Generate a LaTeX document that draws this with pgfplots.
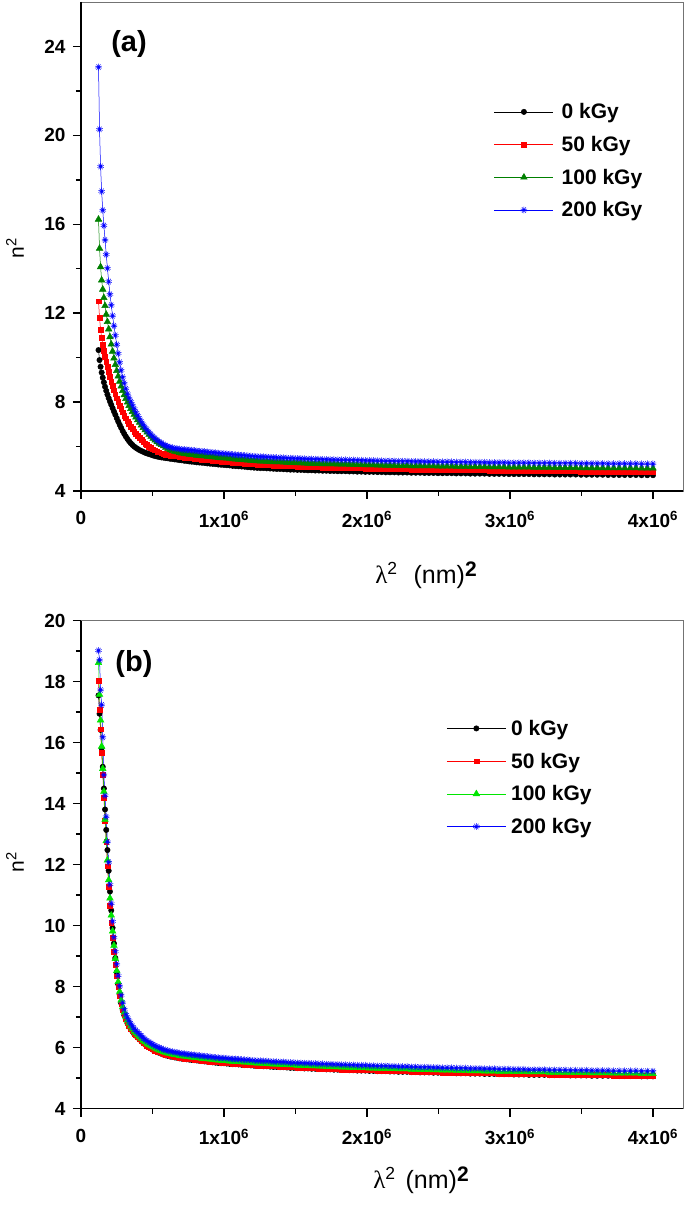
\documentclass[border=0pt]{standalone}
\usepackage{fontspec}
\setmainfont{Liberation Sans}
\newfontfamily\seriff{Liberation Serif}
\usepackage{pgfplots}
\usepackage{pgfplotstable}
\pgfplotsset{compat=1.18}
\definecolor{dgreen}{RGB}{0,128,0}
\definecolor{lgreen}{RGB}{0,230,0}

\pgfplotstableread{
x k r g b
122500 10.34 12.54 16.22 23.07
129600 9.89 11.79 14.91 20.27
136900 9.59 11.27 14.08 18.60
144400 9.33 10.89 13.48 17.48
152100 9.10 10.59 13.07 16.63
160000 8.89 10.31 12.69 15.94
168100 8.69 10.05 12.33 15.29
176400 8.51 9.82 11.94 14.64
184900 8.34 9.58 11.61 14.02
193600 8.18 9.35 11.28 13.42
202500 8.03 9.13 10.93 12.85
211600 7.88 8.92 10.60 12.36
220900 7.73 8.72 10.28 11.88
230400 7.58 8.53 9.97 11.43
240100 7.43 8.35 9.68 11.00
250000 7.28 8.17 9.41 10.59
260100 7.13 8.00 9.16 10.19
270400 6.98 7.84 8.93 9.79
280900 6.84 7.69 8.71 9.43
291600 6.70 7.54 8.51 9.12
302500 6.57 7.40 8.32 8.85
313600 6.45 7.27 8.15 8.60
324900 6.34 7.14 7.99 8.37
336400 6.24 7.02 7.84 8.18
348100 6.15 6.90 7.70 8.02
360000 6.07 6.79 7.57 7.86
372100 6.00 6.68 7.44 7.70
384400 5.94 6.58 7.32 7.54
396900 5.89 6.48 7.20 7.39
409600 5.84 6.39 7.08 7.24
422500 5.80 6.30 6.96 7.10
435600 5.76 6.22 6.85 6.97
448900 5.72 6.14 6.74 6.85
462400 5.69 6.07 6.64 6.74
476100 5.66 6.00 6.54 6.63
490000 5.63 5.94 6.45 6.53
504100 5.60 5.88 6.36 6.44
518400 5.57 5.83 6.28 6.36
532900 5.55 5.78 6.21 6.28
547600 5.53 5.74 6.14 6.21
562500 5.51 5.70 6.08 6.15
577600 5.50 5.67 6.02 6.09
592900 5.48 5.64 5.96 6.04
608400 5.47 5.62 5.90 6.00
624100 5.45 5.60 5.85 5.97
640000 5.44 5.59 5.81 5.94
656100 5.42 5.57 5.78 5.92
672400 5.41 5.56 5.75 5.90
688900 5.39 5.54 5.72 5.89
705600 5.38 5.53 5.70 5.87
722500 5.36 5.51 5.68 5.86
739600 5.35 5.50 5.66 5.85
756900 5.33 5.48 5.64 5.84
774400 5.32 5.47 5.63 5.83
792100 5.31 5.46 5.62 5.82
810000 5.29 5.44 5.60 5.80
828100 5.28 5.43 5.59 5.79
846400 5.27 5.42 5.58 5.78
864900 5.26 5.41 5.57 5.77
883600 5.24 5.39 5.55 5.75
902500 5.23 5.38 5.54 5.74
921600 5.22 5.37 5.53 5.73
940900 5.21 5.36 5.52 5.72
960400 5.19 5.34 5.50 5.70
980100 5.18 5.33 5.49 5.69
1000000 5.17 5.32 5.48 5.68
1020100 5.16 5.31 5.47 5.67
1040400 5.15 5.30 5.46 5.66
1060900 5.13 5.28 5.44 5.64
1081600 5.12 5.27 5.43 5.63
1102500 5.11 5.26 5.42 5.62
1123600 5.10 5.25 5.41 5.61
1144900 5.09 5.24 5.40 5.60
1166400 5.07 5.22 5.38 5.58
1188100 5.06 5.21 5.37 5.57
1210000 5.05 5.20 5.36 5.56
1232100 5.04 5.19 5.35 5.55
1254400 5.03 5.18 5.34 5.54
1276900 5.03 5.18 5.34 5.54
1299600 5.02 5.17 5.33 5.53
1322500 5.01 5.16 5.32 5.52
1345600 5.00 5.15 5.31 5.51
1368900 4.99 5.14 5.30 5.50
1392400 4.99 5.14 5.30 5.50
1416100 4.98 5.13 5.29 5.49
1440000 4.97 5.12 5.28 5.48
1464100 4.96 5.11 5.27 5.47
1488400 4.96 5.11 5.27 5.47
1512900 4.95 5.10 5.26 5.46
1537600 4.95 5.10 5.26 5.46
1562500 4.94 5.09 5.25 5.45
1587600 4.93 5.08 5.24 5.44
1612900 4.93 5.08 5.24 5.44
1638400 4.92 5.07 5.23 5.43
1664100 4.92 5.07 5.23 5.43
1690000 4.91 5.06 5.22 5.42
1716100 4.91 5.06 5.22 5.42
1742400 4.90 5.05 5.21 5.41
1768900 4.90 5.05 5.21 5.41
1795600 4.89 5.04 5.20 5.40
1822500 4.89 5.04 5.20 5.40
1849600 4.89 5.04 5.20 5.40
1876900 4.88 5.03 5.19 5.39
1904400 4.88 5.03 5.19 5.39
1932100 4.87 5.02 5.18 5.38
1960000 4.87 5.02 5.18 5.38
1988100 4.86 5.01 5.17 5.37
2016400 4.86 5.01 5.17 5.37
2044900 4.86 5.01 5.17 5.37
2073600 4.85 5.00 5.16 5.36
2102500 4.85 5.00 5.16 5.36
2131600 4.84 4.99 5.15 5.35
2160900 4.84 4.99 5.15 5.35
2190400 4.84 4.99 5.15 5.35
2220100 4.83 4.98 5.14 5.34
2250000 4.83 4.98 5.14 5.34
2280100 4.83 4.98 5.14 5.34
2310400 4.82 4.97 5.13 5.33
2340900 4.82 4.97 5.13 5.33
2371600 4.82 4.97 5.13 5.33
2402500 4.81 4.96 5.12 5.32
2433600 4.81 4.96 5.12 5.32
2464900 4.81 4.96 5.12 5.32
2496400 4.80 4.95 5.11 5.31
2528100 4.80 4.95 5.11 5.31
2560000 4.80 4.95 5.11 5.31
2592100 4.80 4.95 5.11 5.31
2624400 4.79 4.94 5.10 5.30
2656900 4.79 4.94 5.10 5.30
2689600 4.79 4.94 5.10 5.30
2722500 4.78 4.93 5.09 5.29
2755600 4.78 4.93 5.09 5.29
2788900 4.78 4.93 5.09 5.29
2822400 4.78 4.93 5.09 5.29
2856100 4.77 4.92 5.08 5.28
2890000 4.77 4.92 5.08 5.28
2924100 4.77 4.92 5.08 5.28
2958400 4.77 4.92 5.08 5.28
2992900 4.76 4.91 5.07 5.27
3027600 4.76 4.91 5.07 5.27
3062500 4.76 4.91 5.07 5.27
3097600 4.76 4.91 5.07 5.27
3132900 4.76 4.91 5.07 5.27
3168400 4.75 4.90 5.06 5.26
3204100 4.75 4.90 5.06 5.26
3240000 4.75 4.90 5.06 5.26
3276100 4.75 4.90 5.06 5.26
3312400 4.74 4.89 5.05 5.25
3348900 4.74 4.89 5.05 5.25
3385600 4.74 4.89 5.05 5.25
3422500 4.74 4.89 5.05 5.25
3459600 4.74 4.89 5.05 5.25
3496900 4.73 4.88 5.04 5.24
3534400 4.73 4.88 5.04 5.24
3572100 4.73 4.88 5.04 5.24
3610000 4.73 4.88 5.04 5.24
3648100 4.73 4.88 5.04 5.24
3686400 4.72 4.87 5.03 5.23
3724900 4.72 4.87 5.03 5.23
3763600 4.72 4.87 5.03 5.23
3802500 4.72 4.87 5.03 5.23
3841600 4.72 4.87 5.03 5.23
3880900 4.72 4.87 5.03 5.23
3920400 4.71 4.86 5.02 5.22
3960100 4.71 4.86 5.02 5.22
4000000 4.71 4.86 5.02 5.22
}\tabA

\pgfplotstableread{
x k r g b
122500 17.55 18.02 18.62 19.02
129600 16.95 17.07 17.58 18.71
136900 16.42 16.44 16.74 17.73
144400 15.82 15.67 15.88 17.24
152100 15.21 14.96 15.15 16.18
160000 14.50 14.20 14.40 14.94
168100 13.81 13.44 13.48 14.26
176400 13.14 12.75 12.78 13.57
184900 12.48 11.95 12.15 12.75
193600 11.80 11.28 11.50 12.08
202500 11.12 10.66 10.90 11.35
211600 10.50 10.10 10.34 10.72
220900 9.93 9.60 9.82 10.14
230400 9.42 9.15 9.35 9.62
240100 8.94 8.73 8.92 9.16
250000 8.48 8.34 8.52 8.74
260100 8.08 8.00 8.16 8.36
270400 7.74 7.70 7.84 8.02
280900 7.46 7.45 7.56 7.72
291600 7.24 7.24 7.34 7.47
302500 7.06 7.07 7.16 7.26
313600 6.92 6.93 7.02 7.09
324900 6.80 6.82 6.90 6.98
336400 6.70 6.72 6.80 6.88
348100 6.61 6.63 6.70 6.78
360000 6.53 6.55 6.62 6.70
372100 6.45 6.47 6.54 6.62
384400 6.39 6.41 6.48 6.56
396900 6.33 6.35 6.42 6.50
409600 6.27 6.29 6.36 6.44
422500 6.21 6.23 6.30 6.38
435600 6.15 6.17 6.24 6.32
448900 6.10 6.12 6.19 6.27
462400 6.05 6.07 6.14 6.22
476100 6.01 6.03 6.10 6.18
490000 5.97 5.99 6.06 6.14
504100 5.93 5.95 6.02 6.10
518400 5.89 5.91 5.98 6.06
532900 5.86 5.88 5.95 6.03
547600 5.83 5.85 5.92 6.00
562500 5.80 5.82 5.89 5.97
577600 5.77 5.79 5.86 5.94
592900 5.75 5.77 5.84 5.92
608400 5.73 5.75 5.82 5.90
624100 5.71 5.73 5.80 5.88
640000 5.70 5.72 5.79 5.87
656100 5.68 5.70 5.77 5.85
672400 5.67 5.69 5.76 5.84
688900 5.65 5.67 5.74 5.82
705600 5.64 5.66 5.73 5.81
722500 5.63 5.65 5.72 5.80
739600 5.62 5.64 5.71 5.79
756900 5.61 5.63 5.70 5.78
774400 5.60 5.62 5.69 5.77
792100 5.59 5.61 5.68 5.76
810000 5.58 5.60 5.67 5.75
828100 5.57 5.59 5.66 5.74
846400 5.56 5.58 5.65 5.73
864900 5.55 5.57 5.64 5.72
883600 5.54 5.56 5.63 5.71
902500 5.53 5.55 5.62 5.70
921600 5.52 5.54 5.61 5.69
940900 5.51 5.53 5.60 5.68
960400 5.50 5.52 5.59 5.67
980100 5.49 5.51 5.58 5.66
1000000 5.49 5.51 5.58 5.66
1020100 5.48 5.50 5.57 5.65
1040400 5.47 5.49 5.56 5.64
1060900 5.46 5.48 5.55 5.63
1081600 5.46 5.48 5.55 5.63
1102500 5.45 5.47 5.54 5.62
1123600 5.44 5.46 5.53 5.61
1144900 5.43 5.45 5.52 5.60
1166400 5.43 5.45 5.52 5.60
1188100 5.42 5.44 5.51 5.59
1210000 5.41 5.43 5.50 5.58
1232100 5.40 5.42 5.49 5.57
1254400 5.40 5.42 5.49 5.57
1276900 5.39 5.41 5.48 5.56
1299600 5.39 5.41 5.48 5.56
1322500 5.38 5.40 5.47 5.55
1345600 5.37 5.39 5.46 5.54
1368900 5.37 5.39 5.46 5.54
1392400 5.36 5.38 5.45 5.53
1416100 5.36 5.38 5.45 5.53
1440000 5.35 5.37 5.44 5.52
1464100 5.34 5.36 5.43 5.51
1488400 5.34 5.36 5.43 5.51
1512900 5.33 5.35 5.42 5.50
1537600 5.33 5.35 5.42 5.50
1562500 5.32 5.34 5.41 5.49
1587600 5.32 5.34 5.41 5.49
1612900 5.31 5.33 5.40 5.48
1638400 5.31 5.33 5.40 5.48
1664100 5.30 5.32 5.39 5.47
1690000 5.30 5.32 5.39 5.47
1716100 5.29 5.31 5.38 5.46
1742400 5.29 5.31 5.38 5.46
1768900 5.28 5.30 5.37 5.45
1795600 5.28 5.30 5.37 5.45
1822500 5.27 5.29 5.36 5.44
1849600 5.27 5.29 5.36 5.44
1876900 5.26 5.28 5.35 5.43
1904400 5.26 5.28 5.35 5.43
1932100 5.25 5.27 5.34 5.42
1960000 5.25 5.27 5.34 5.42
1988100 5.25 5.27 5.34 5.42
2016400 5.24 5.26 5.33 5.41
2044900 5.24 5.26 5.33 5.41
2073600 5.23 5.25 5.32 5.40
2102500 5.23 5.25 5.32 5.40
2131600 5.23 5.25 5.32 5.40
2160900 5.22 5.24 5.31 5.39
2190400 5.22 5.24 5.31 5.39
2220100 5.21 5.23 5.30 5.38
2250000 5.21 5.23 5.30 5.38
2280100 5.21 5.23 5.30 5.38
2310400 5.20 5.22 5.29 5.37
2340900 5.20 5.22 5.29 5.37
2371600 5.19 5.21 5.28 5.36
2402500 5.19 5.21 5.28 5.36
2433600 5.19 5.21 5.28 5.36
2464900 5.18 5.20 5.27 5.35
2496400 5.18 5.20 5.27 5.35
2528100 5.17 5.19 5.26 5.34
2560000 5.17 5.19 5.26 5.34
2592100 5.17 5.19 5.26 5.34
2624400 5.16 5.18 5.25 5.33
2656900 5.16 5.18 5.25 5.33
2689600 5.16 5.18 5.25 5.33
2722500 5.15 5.17 5.24 5.32
2755600 5.15 5.17 5.24 5.32
2788900 5.15 5.17 5.24 5.32
2822400 5.14 5.16 5.23 5.31
2856100 5.14 5.16 5.23 5.31
2890000 5.14 5.16 5.23 5.31
2924100 5.13 5.15 5.22 5.30
2958400 5.13 5.15 5.22 5.30
2992900 5.13 5.15 5.22 5.30
3027600 5.12 5.14 5.21 5.29
3062500 5.12 5.14 5.21 5.29
3097600 5.12 5.14 5.21 5.29
3132900 5.11 5.13 5.20 5.28
3168400 5.11 5.13 5.20 5.28
3204100 5.11 5.13 5.20 5.28
3240000 5.11 5.13 5.20 5.28
3276100 5.10 5.12 5.19 5.27
3312400 5.10 5.12 5.19 5.27
3348900 5.10 5.12 5.19 5.27
3385600 5.10 5.12 5.19 5.27
3422500 5.09 5.11 5.18 5.26
3459600 5.09 5.11 5.18 5.26
3496900 5.09 5.11 5.18 5.26
3534400 5.09 5.11 5.18 5.26
3572100 5.08 5.10 5.17 5.25
3610000 5.08 5.10 5.17 5.25
3648100 5.08 5.10 5.17 5.25
3686400 5.08 5.10 5.17 5.25
3724900 5.07 5.09 5.16 5.24
3763600 5.07 5.09 5.16 5.24
3802500 5.07 5.09 5.16 5.24
3841600 5.07 5.09 5.16 5.24
3880900 5.07 5.09 5.16 5.24
3920400 5.06 5.08 5.15 5.23
3960100 5.06 5.08 5.15 5.23
4000000 5.06 5.08 5.15 5.23
}\tabB

\pgfplotsset{
  common/.style={
    width=602pt, scale only axis,
    xmin=0, xmax=4210000,
    scaled x ticks=false,
    xtick={0,1000000,2000000,3000000,4000000},
    xticklabels={0,1x10\textsuperscript{6},2x10\textsuperscript{6},3x10\textsuperscript{6},4x10\textsuperscript{6}},
    minor x tick num=1, minor y tick num=1,
    tick align=outside, tick pos=left,
    major tick length=8pt, minor tick length=5pt,
    tick style={draw=black, line width=1.5pt},
    major tick style={draw=black, line width=1.5pt},
    minor tick style={draw=black, line width=1.4pt},
    axis line style={draw=black!55, line width=0.7pt},
    tick label style={font=\fontsize{19}{20}\selectfont\bfseries},
    xticklabel shift=9pt, yticklabel shift=4pt,
    /pgf/number format/assume math mode=true,
    legend cell align=left,
    legend image code/.code={\draw[mark repeat=2,mark phase=2] plot coordinates {(0pt,0pt) (29.5pt,0pt) (59pt,0pt)};},
    extra description/.code={\draw[black,line width=1.5pt] (rel axis cs:0,1) -- (rel axis cs:0,0) -- (rel axis cs:1,0);},
  },
  mk/.style={mark=*, mark size=2.7pt},
  mr/.style={mark=square*, mark size=2.4pt},
  mg/.style={mark=triangle*, mark size=3.8pt},
  mb/.style={mark=10-pointed star, mark size=3.4pt},
}

\begin{document}
\begin{tikzpicture}
\useasboundingbox (0pt,0pt) rectangle (685pt,1206pt);

% panel (a)
\begin{axis}[common, at={(81pt,715pt)}, anchor=south west, height=489pt,
  ymin=4, ymax=26, ytick={4,8,12,16,20,24},
  legend style={draw=none, fill=none, at={(axis description cs:0.686,0.803)}, anchor=north west,
    font=\fontsize{21}{21}\selectfont\bfseries, row sep=6pt, column sep=3pt, inner sep=0pt,
    nodes={inner sep=5pt}},
]
\addplot[black, line width=0.5pt, mk] table[x=x,y=k]{\tabA};
\addplot[red, line width=0.5pt, mr] table[x=x,y=r]{\tabA};
\addplot[dgreen, line width=0.5pt, mg] table[x=x,y=g]{\tabA};
\addplot[blue, line width=0.5pt, mb, mark options={fill=blue}] table[x=x,y=b]{\tabA};
\legend{0 kGy, 50 kGy, 100 kGy, 200 kGy}
\end{axis}

% panel (b)
\begin{axis}[common, at={(81pt,97.3pt)}, anchor=south west, height=488pt,
  ymin=4, ymax=20, ytick={4,6,8,10,12,14,16,18,20},
  legend style={draw=none, fill=none, at={(axis description cs:0.607,0.807)}, anchor=north west,
    font=\fontsize{21}{21}\selectfont\bfseries, row sep=6pt, inner sep=0pt,
    nodes={inner sep=5pt}},
]
\addplot[black, line width=0.5pt, mk] table[x=x,y=k]{\tabB};
\addplot[red, line width=0.5pt, mr] table[x=x,y=r]{\tabB};
\addplot[lgreen, line width=0.5pt, mg] table[x=x,y=g]{\tabB};
\addplot[blue, line width=0.5pt, mb, mark options={fill=blue}] table[x=x,y=b]{\tabB};
\legend{0 kGy, 50 kGy, 100 kGy, 200 kGy}
\end{axis}

\node[font=\fontsize{29}{29}\selectfont\bfseries] at (129pt,1162pt) {(a)};
\node[font=\fontsize{29}{29}\selectfont\bfseries] at (134pt,542pt) {(b)};

\node[font=\fontsize{25}{25}\selectfont] at (426pt,631pt) {{\seriff λ}\textsuperscript{2}\hspace{16pt}(nm)\raisebox{7pt}{\fontsize{21}{21}\selectfont\bfseries 2}};
\node[font=\fontsize{25}{25}\selectfont] at (421pt,26pt) {{\seriff λ}\textsuperscript{2}\hspace{10pt}(nm)\raisebox{7pt}{\fontsize{21}{21}\selectfont\bfseries 2}};

\node[rotate=90, font=\fontsize{21}{21}\selectfont] at (15pt,958pt) {n\textsuperscript{2}};
\node[rotate=90, font=\fontsize{21}{21}\selectfont] at (15pt,344pt) {n\textsuperscript{2}};
\end{tikzpicture}
\end{document}
